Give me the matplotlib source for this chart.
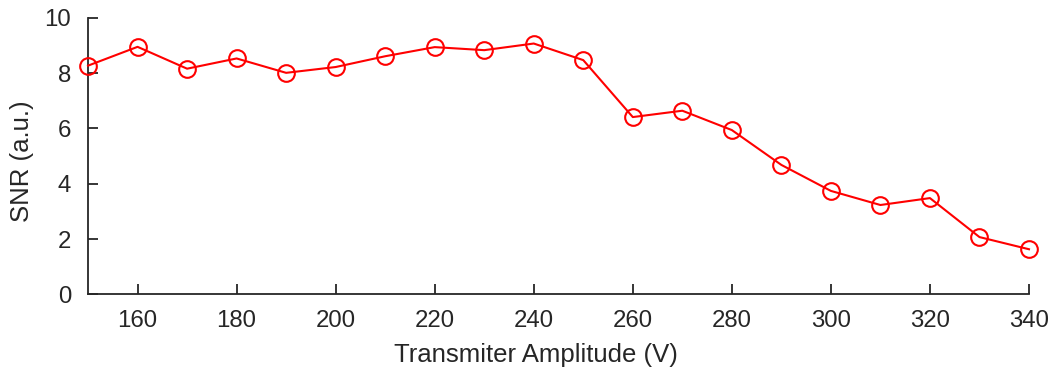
import matplotlib
matplotlib.use("Agg")
import matplotlib.pyplot as plt

amplitude = [150, 160, 170, 180, 190, 200, 210, 220, 230, 240,
             250, 260, 270, 280, 290, 300, 310, 320, 330, 340]
snr = [8.27, 8.95, 8.16, 8.53, 8.01, 8.22, 8.61, 8.94, 8.83, 9.07,
       8.47, 6.41, 6.64, 5.94, 4.68, 3.74, 3.23, 3.48, 2.07, 1.63]
xticks = [160, 180, 200, 220, 240, 260, 280, 300, 320, 340]
yticks = [0, 2, 4, 6, 8, 10]

plt.rcParams['font.family'] = ['Liberation Sans', 'DejaVu Sans']
dark = '#262626'

fig = plt.figure(figsize=(10.53, 3.71), dpi=100)
ax = fig.add_axes([0.0836, 0.2067, 0.8936, 0.7453])
ax.plot(amplitude, snr, color='#ff0000', linewidth=1.5, marker='o',
        markersize=12, markerfacecolor='none', markeredgewidth=1.5,
        markeredgecolor='#ff0000', clip_on=False, zorder=3)

ax.set_xlim(150, 340)
ax.set_ylim(0, 10)
ax.set_xticks(xticks)
ax.set_yticks(yticks)
for s in ['top', 'right']:
    ax.spines[s].set_visible(False)
for s in ['left', 'bottom']:
    ax.spines[s].set_color(dark)
    ax.spines[s].set_linewidth(1.3)
ax.tick_params(direction='in', length=7.5, width=1.3, colors=dark,
               labelsize=17.3)
ax.tick_params(axis='x', pad=11)
ax.tick_params(axis='y', pad=12)
ax.set_xlabel('Transmiter Amplitude (V)', fontsize=18.5, color=dark)
ax.set_ylabel('SNR (a.u.)', fontsize=18.5, color=dark)
ax.xaxis.set_label_coords(0.476, -0.175)
ax.yaxis.set_label_coords(-0.057, 0.483)

fig.savefig('out.png', dpi=100)
